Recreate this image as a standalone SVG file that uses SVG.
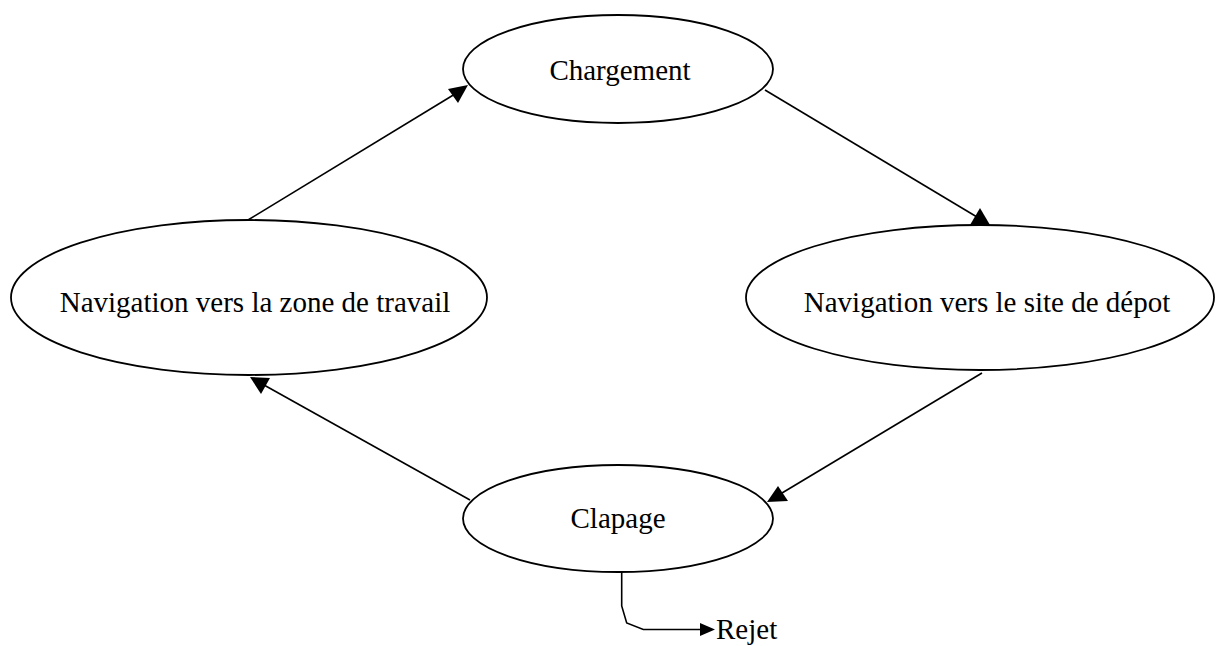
<svg xmlns="http://www.w3.org/2000/svg" width="1216" height="646" viewBox="0 0 1216 646">
<style>
.node ellipse{fill:#fff;stroke:#000;stroke-width:1.8}
.lbl{font-family:"Liberation Serif","Times New Roman",serif;font-size:29px;fill:#000}
.edge{fill:none;stroke:#000;stroke-width:1.6}
.head{fill:#000;stroke:none}
</style>
<rect width="1216" height="646" fill="#fff"/>
<g id="connectors">
<line class="edge" x1="248" y1="220" x2="455" y2="94"/>
<polygon class="head" points="468,85 448,89 458,103"/>
<line class="edge" x1="765" y1="90" x2="977" y2="217"/>
<polygon class="head" points="990,225 980,208 970,225"/>
<line class="edge" x1="982" y1="373" x2="782" y2="493"/>
<polygon class="head" points="767,502 778,486 788,501"/>
<line class="edge" x1="470" y1="500" x2="264" y2="385"/>
<polygon class="head" points="250,377 270,378 261,394"/>
<polyline class="edge" points="621.7,572 621.7,606 626.7,623 643.3,629.5 702,629.5"/>
<polygon class="head" points="715,629.5 700,623 700,636"/>
</g>
<g id="chargement" class="node">
<ellipse cx="618" cy="69" rx="155" ry="54"/>
<text class="lbl" x="620" y="80" text-anchor="middle">Chargement</text>
</g>
<g id="nav-zone" class="node">
<ellipse cx="249" cy="297.5" rx="238" ry="77.5"/>
<text class="lbl" x="255" y="312" text-anchor="middle">Navigation vers la zone de travail</text>
</g>
<g id="nav-depot" class="node">
<ellipse cx="980" cy="297.5" rx="234" ry="72.5"/>
<text class="lbl" x="987" y="312" text-anchor="middle">Navigation vers le site de dépot</text>
</g>
<g id="clapage" class="node">
<ellipse cx="618" cy="518.5" rx="155" ry="53.5"/>
<text class="lbl" x="618" y="528" text-anchor="middle">Clapage</text>
</g>
<g id="rejet">
<text class="lbl" x="716" y="639">Rejet</text>
</g>
</svg>
